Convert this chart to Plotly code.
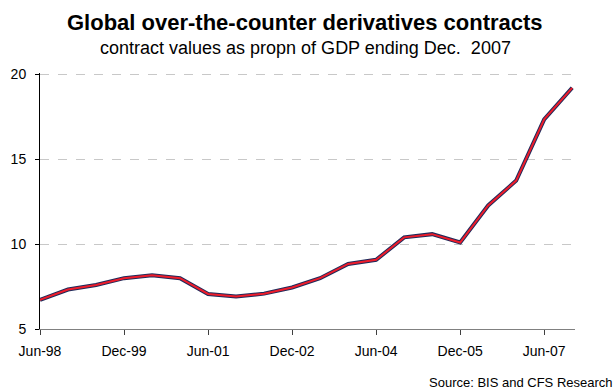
import plotly.graph_objects as go

categories = ["Jun-98", "Dec-98", "Jun-99", "Dec-99", "Jun-00", "Dec-00", "Jun-01", "Dec-01",
              "Jun-02", "Dec-02", "Jun-03", "Dec-03", "Jun-04", "Dec-04", "Jun-05", "Dec-05",
              "Jun-06", "Dec-06", "Jun-07", "Dec-07"]
values = [6.71, 7.32, 7.59, 7.99, 8.16, 7.99, 7.06, 6.91, 7.08, 7.44,
          7.99, 8.83, 9.07, 10.39, 10.58, 10.09, 12.27, 13.73, 17.33, 19.19]
tick_labels = categories[::3]
y_ticks = [5, 10, 15, 20]

FONT = "Liberation Sans, Arial, sans-serif"

fig = go.Figure()
fig.add_trace(go.Scatter(x=categories, y=values, mode="lines",
                         line=dict(color="#1f2a5a", width=4), hoverinfo="skip", showlegend=False))
fig.add_trace(go.Scatter(x=categories, y=values, mode="lines",
                         line=dict(color="#ee1c2a", width=2), showlegend=False))

L, R, T, B = 40, 40, 73, 61
W, H = 615, 390
pw, ph = W - L - R, H - T - B
def px(x): return (x - L) / pw
def py(y): return (H - B - y) / ph

fig.update_layout(
    width=W, height=H,
    margin=dict(l=L, r=R, t=T, b=B),
    paper_bgcolor="white", plot_bgcolor="white",
    font=dict(family=FONT, size=14, color="black"),
    xaxis=dict(type="category", categoryorder="array", categoryarray=categories,
               range=[0, 19.1], tickvals=tick_labels, ticktext=tick_labels,
               showgrid=False, showline=True, linecolor="#808080", linewidth=1,
               ticks="outside", ticklen=5, tickcolor="#404040", tickfont=dict(size=14),
               ticklabelstandoff=4, zeroline=False, fixedrange=True),
    yaxis=dict(range=[5, 20.06], tickvals=y_ticks, showgrid=True, gridcolor="#c8c8c8",
               griddash="dash", gridwidth=1, showline=True, linecolor="black", linewidth=1,
               ticks="outside", ticklen=4, tickcolor="black", zeroline=False,
               ticklabelstandoff=6, tickfont=dict(size=14)),
    annotations=[
        dict(text="<b>Global over-the-counter derivatives contracts</b>", x=px(305), y=py(22),
             xref="paper", yref="paper", showarrow=False, font=dict(size=22),
             xanchor="center", yanchor="middle"),
        dict(text="contract values as propn of GDP ending Dec.  2007", x=px(305), y=py(48),
             xref="paper", yref="paper", showarrow=False, font=dict(size=18),
             xanchor="center", yanchor="middle"),
        dict(text="Source: BIS and CFS Research", x=px(615), y=py(382),
             xref="paper", yref="paper", showarrow=False, font=dict(size=13),
             xanchor="right", yanchor="middle"),
    ],
)

fig.write_html("out.html", config={"displayModeBar": False},
               post_script="document.body.style.margin='0';document.body.style.overflow='hidden';")
